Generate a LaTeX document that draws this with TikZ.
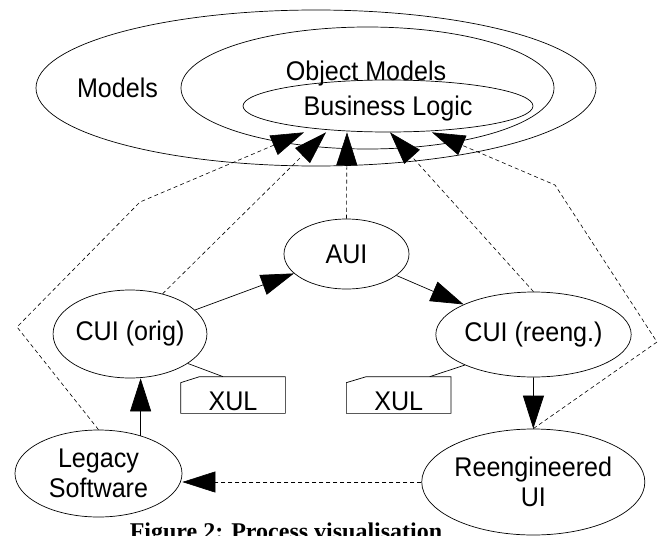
\documentclass[tikz,border=0pt]{standalone}
\usepackage{fontspec}
\setmainfont{Liberation Sans}[FakeStretch=0.93]
\newfontfamily\capfont{Liberation Serif}
\usetikzlibrary{shapes.geometric,arrows.meta}
\begin{document}
\begin{tikzpicture}[x=1pt,y=-1pt,line width=0.7pt,
  font=\fontsize{27}{30}\selectfont,
  bubble/.style={draw,ellipse,inner sep=0pt,align=center},
  flow/.style={-{Triangle[length=33pt,width=21pt]}},
  trace/.style={flow,dash pattern=on 4pt off 3pt,line width=0.6pt},
  note/.style={inner sep=0pt,minimum width=104pt,minimum height=36pt,text height=31.5pt,text depth=0pt}]
\useasboundingbox (0,0) rectangle (660,535);

\node[bubble,minimum width=560pt,minimum height=156pt] (models) at (316,88) {};
\node[bubble,minimum width=373pt,minimum height=122pt] (objm) at (367.5,88) {};
\node[bubble,minimum width=290pt,minimum height=52pt] (bl) at (388,106) {};
\node[anchor=base] (modelstxt) at (117.5,97) {Models};
\node[anchor=base] (objmtxt) at (366,80) {Object Models};
\node[anchor=base] (bltxt) at (388,115) {Business Logic};

\node[bubble,minimum width=125pt,minimum height=70pt] (aui) at (346.5,254) {AUI};
\node[bubble,minimum width=145pt,minimum height=88pt] (cuio) at (130,334) {CUI (orig)};
\node[bubble,minimum width=165pt,minimum height=85pt] (cuir) at (533.5,334.5) {CUI (reeng.)};
\node[bubble,minimum width=167pt,minimum height=87pt] (legacy) at (98.5,473.5) {Legacy\\Software};
\node[bubble,minimum width=208pt,minimum height=106pt] (rui) at (533.3,482) {Reengineered\\UI};

\node[note] (xulo) at (233,395) {XUL};
\node[note] (xulr) at (398.7,395) {XUL};
\draw ([xshift=19pt]xulo.north west) -- (xulo.north east) |- (xulo.south west) -- ([yshift=-6pt]xulo.north west) -- cycle;
\draw ([xshift=20pt]xulr.north west) -- (xulr.north east) |- (xulr.south west) -- ([yshift=-6pt]xulr.north west) -- cycle;
\draw (cuio.333) -- ([xshift=-10pt]xulo.north);
\draw (cuir.204) -- ([xshift=31pt]xulr.north);

\draw[flow] (legacy.42) -- (legacy.42 |- cuio.south);
\draw[flow] (cuio) -- (aui);
\draw[flow] (aui) -- (cuir);
\draw[flow] (cuir.south) -- (rui.north);
\draw[trace] (rui.west) -- (legacy.east |- rui.west);

\coordinate (a1) at (17,327);
\coordinate (a2) at (140,202);
\coordinate (e1) at (657,342);
\coordinate (e2) at (555,185);
\draw[trace] (legacy.north) -- (a1) -- (a2) -- ([xshift=-84pt]bl.south);
\draw[trace] (cuio.51) -- ([xshift=-62pt]bl.south);
\draw[trace] (aui.north) -- ([xshift=-41pt]bl.south);
\draw[trace] (cuir.north) -- ([xshift=2pt]bl.south);
\draw[trace] (rui.north) -- (e1) -- (e2) -- ([xshift=44pt]bl.south);

\node[anchor=base,font={\capfont\bfseries\fontsize{24}{28}\selectfont}] (caption) at (286,539) {Figure 2: Process visualisation};
\end{tikzpicture}
\end{document}
